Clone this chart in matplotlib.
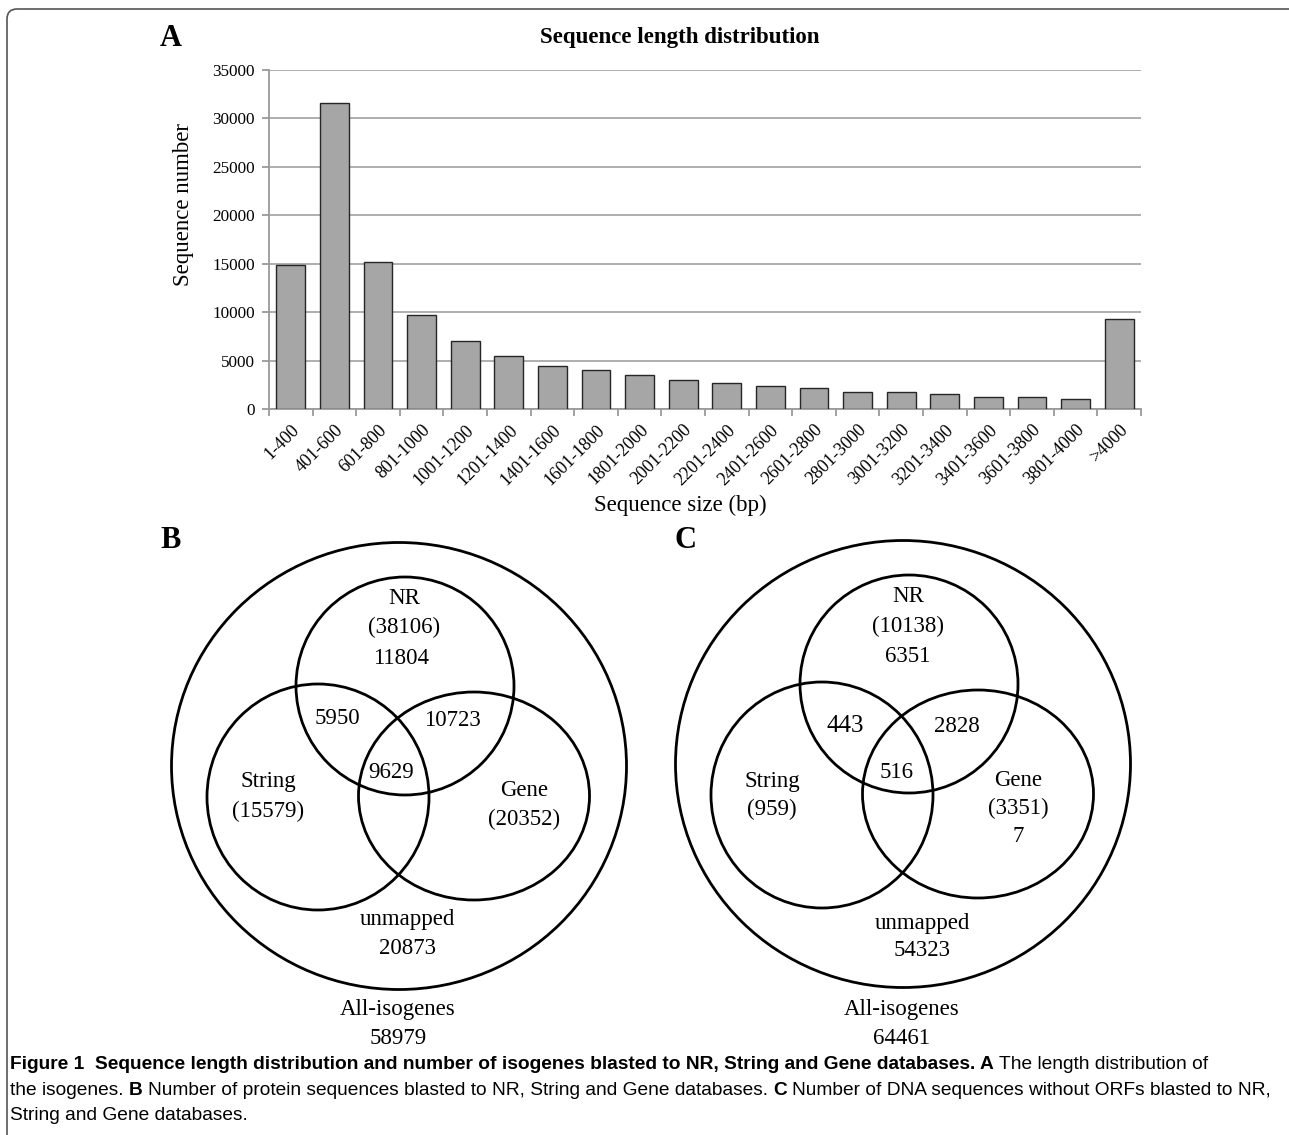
import numpy as np
import matplotlib.pyplot as plt
from matplotlib.patches import Ellipse, FancyBboxPatch

# sequence length histogram (panel A)
categories = ['1-400', '401-600', '601-800', '801-1000', '1001-1200', '1201-1400',
              '1401-1600', '1601-1800', '1801-2000', '2001-2200', '2201-2400',
              '2401-2600', '2601-2800', '2801-3000', '3001-3200', '3201-3400',
              '3401-3600', '3601-3800', '3801-4000', '>4000']
counts = [14900, 31550, 15150, 9700, 7030, 5460, 4460, 3980, 3470, 3020,
          2640, 2370, 2200, 1720, 1750, 1540, 1200, 1240, 1080, 9250]
y_ticks = [0, 5000, 10000, 15000, 20000, 25000, 30000, 35000]

# blast hits per database (panels B and C)
venn_b = {'nr': 38106, 'string': 15579, 'gene': 20352, 'nr_only': 11804,
          'nr_string': 5950, 'nr_gene': 10723, 'all3': 9629,
          'unmapped': 20873, 'total': 58979}
venn_c = {'nr': 10138, 'string': 959, 'gene': 3351, 'nr_only': 6351,
          'gene_only': 7, 'nr_string': 443, 'nr_gene': 2828, 'all3': 516,
          'unmapped': 54323, 'total': 64461}

W, H = 1289, 1135
SERIF = 'Liberation Serif'
CAP_FONT = 'Liberation Sans'

fig = plt.figure(figsize=(W / 100, H / 100), dpi=100)

# full-figure canvas in pixel units, y pointing down
canvas = fig.add_axes([0, 0, 1, 1])
canvas.set_xlim(0, W)
canvas.set_ylim(H, 0)
canvas.axis('off')

canvas.add_patch(FancyBboxPatch((7, 9), 1300, 1250,
                                boxstyle='round,pad=0,rounding_size=10',
                                fill=False, ec='#555555', lw=1.2))

# ---- panel A: bar chart ----
ax = fig.add_axes([269 / W, 1 - 409 / H, (1141 - 269) / W, (409 - 70) / H])
x = np.arange(len(categories))
ax.bar(x, counts, width=0.66, color='#a6a6a6', edgecolor='#262626',
       linewidth=1.0, zorder=3)
ax.set_xlim(-0.5, len(categories) - 0.5)
ax.set_ylim(0, 35000)
ax.set_yticks(y_ticks)
ax.set_yticklabels([str(v) for v in y_ticks], fontsize=12.3, family=SERIF)
ax.yaxis.grid(True, color='#a8a8a8', lw=1.3, zorder=0)
for s in ['top', 'right']:
    ax.spines[s].set_visible(False)
for s in ['left', 'bottom']:
    ax.spines[s].set_color('#9a9a9a')
    ax.spines[s].set_linewidth(1.3)
ax.tick_params(axis='y', length=5, width=1.3, color='#9a9a9a', pad=5)
ax.set_xticks(x)
ax.set_xticklabels(categories, rotation=45, ha='right', rotation_mode='anchor',
                   fontsize=13, family=SERIF)
ax.tick_params(axis='x', which='major', length=0, pad=9)
ax.set_xticks(np.arange(-0.5, len(categories)), minor=True)
ax.tick_params(axis='x', which='minor', length=5, width=1.3, color='#9a9a9a')

canvas.text(171, 38, 'A', ha='center', va='center', fontsize=22,
            weight='bold', family=SERIF)
canvas.text(680, 38, 'Sequence length distribution', ha='center', va='center',
            fontsize=16.5, weight='bold', family=SERIF)
canvas.text(184, 205, 'Sequence number', rotation=90, ha='center',
            va='center', fontsize=16.5, family=SERIF)
canvas.text(680, 505, 'Sequence size (bp)', ha='center', va='center',
            fontsize=16.5, family=SERIF)


# ---- panels B and C: Venn diagrams ----
def draw_venn(cx, cy, labels):
    shapes = [((cx, cy), 455, 447),            # all isogenes
              ((cx + 6, cy - 80), 218, 218),   # NR
              ((cx - 81, cy + 31), 222, 226),  # String
              ((cx + 75, cy + 30), 231, 208)]  # Gene
    for xy, w, h in shapes:
        canvas.add_patch(Ellipse(xy, w, h, fill=False, ec='black', lw=2.0))
    for text, tx, ty, size in labels:
        canvas.text(tx, ty, text, ha='center', va='center', fontsize=size,
                    family=SERIF)


fs = 16.5
draw_venn(399, 766, [
    ('NR', 404, 598, fs), (f"({venn_b['nr']})", 404, 627, fs),
    (str(venn_b['nr_only']), 401, 658, fs),
    (str(venn_b['nr_string']), 337, 718, fs),
    (str(venn_b['nr_gene']), 452, 721, fs),
    (str(venn_b['all3']), 391, 772, fs),
    ('String', 268, 782, fs), (f"({venn_b['string']})", 268, 811, fs),
    ('Gene', 524, 790, fs), (f"({venn_b['gene']})", 524, 819, fs),
    ('unmapped', 407, 920, fs), (str(venn_b['unmapped']), 407, 948, fs),
    ('All-isogenes', 398, 1010, fs), (str(venn_b['total']), 398, 1038, fs),
])
draw_venn(903, 764, [
    ('NR', 908, 597, fs), (f"({venn_c['nr']})", 908, 626, fs),
    (str(venn_c['nr_only']), 908, 657, fs),
    (str(venn_c['nr_string']), 845, 726, 18),
    (str(venn_c['nr_gene']), 957, 727, fs),
    (str(venn_c['all3']), 897, 772, fs),
    ('String', 772, 781, fs), (f"({venn_c['string']})", 772, 809, fs),
    ('Gene', 1018, 780, fs), (f"({venn_c['gene']})", 1018, 808, fs),
    (str(venn_c['gene_only']), 1018, 837, fs),
    ('unmapped', 922, 923, fs), (str(venn_c['unmapped']), 922, 951, fs),
    ('All-isogenes', 902, 1010, fs), (str(venn_c['total']), 902, 1038, fs),
])
canvas.text(171, 541, 'B', ha='center', va='center', fontsize=22,
            weight='bold', family=SERIF)
canvas.text(685, 541, 'C', ha='center', va='center', fontsize=22,
            weight='bold', family=SERIF)

# ---- caption, mixed bold / regular runs ----
cap_fs = 13.8
renderer = fig.canvas.get_renderer()


def run_width(s, bold):
    t = canvas.text(0, 0, s, fontsize=cap_fs, family=CAP_FONT,
                    weight='bold' if bold else 'normal')
    w = t.get_window_extent(renderer).width
    t.remove()
    return w


space = run_width('x x', False) - run_width('xx', False)

caption = [
    (1069, [('Figure 1  Sequence length distribution and number of isogenes '
             'blasted to NR, String and Gene databases. A', True),
            ('The length distribution of', False)]),
    (1095, [('the isogenes.', False), ('B', True),
            ('Number of protein sequences blasted to NR, String and Gene '
             'databases.', False), ('C', True),
            ('Number of DNA sequences without ORFs blasted to NR,', False)]),
    (1120, [('String and Gene databases.', False)]),
]
for base_y, runs in caption:
    xpos = 10
    for s, bold in runs:
        canvas.text(xpos, base_y, s, fontsize=cap_fs, family=CAP_FONT,
                    weight='bold' if bold else 'normal', va='baseline',
                    ha='left')
        xpos += run_width(s, bold) + space

fig.savefig('out.png', dpi=100)
